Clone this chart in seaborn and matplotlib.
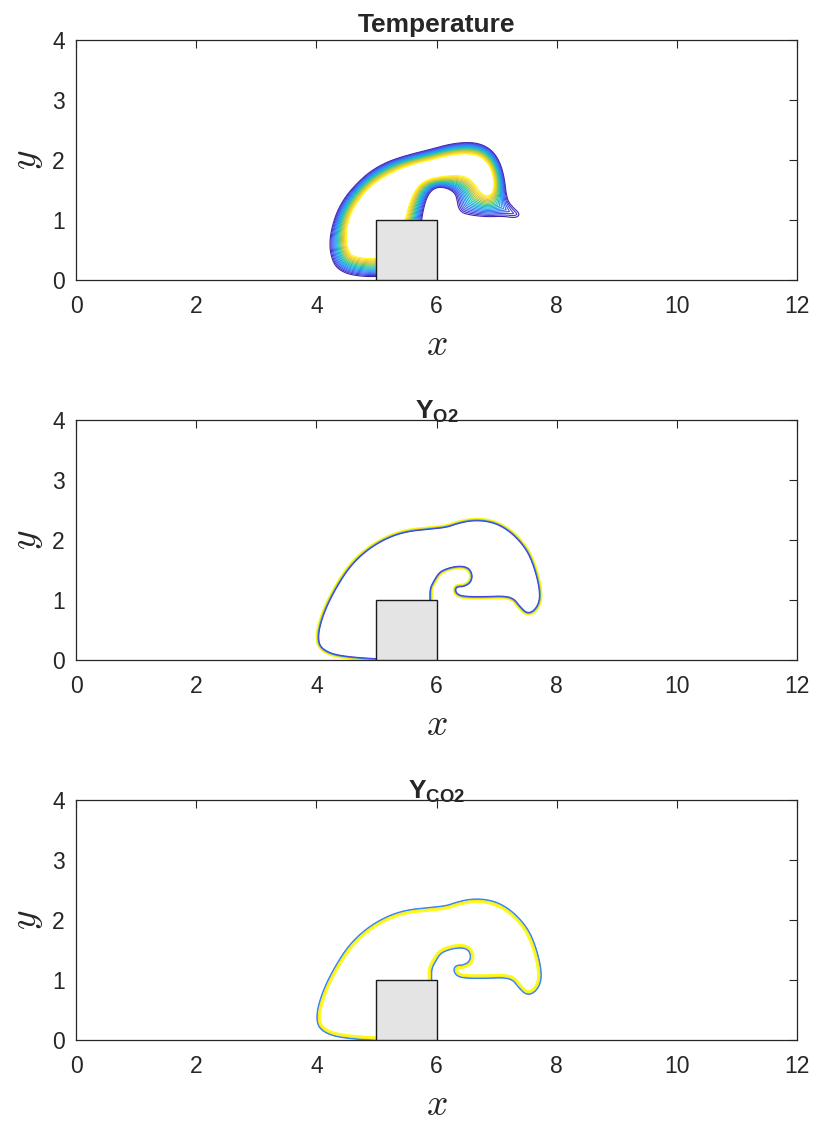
import numpy as np
import matplotlib
matplotlib.use("Agg")
import matplotlib.pyplot as plt
from matplotlib.path import Path
from matplotlib.patches import Rectangle
import seaborn as sns

# ---------------- data ----------------
# Temperature: outermost (coldest, purple) contour of the hot plume
temp_out_x = [5.75, 5.75, 5.80, 5.86, 5.95, 6.06, 6.20, 6.31, 6.34, 6.36, 6.42, 6.56,
              6.83, 7.11, 7.30, 7.38, 7.37, 7.29, 7.20, 7.16, 7.13, 7.06, 6.93, 6.74,
              6.52, 6.23, 5.90, 5.50, 5.17, 4.89, 4.67, 4.48, 4.34, 4.26, 4.22, 4.23,
              4.31, 4.50, 4.78, 5.00, 5.40, 5.75]
temp_out_y = [0.75, 1.00, 1.25, 1.42, 1.52, 1.55, 1.52, 1.44, 1.32, 1.20, 1.12, 1.08,
              1.05, 1.06, 1.03, 1.07, 1.13, 1.20, 1.30, 1.44, 1.70, 1.96, 2.16, 2.27,
              2.30, 2.27, 2.18, 2.08, 1.97, 1.81, 1.61, 1.39, 1.14, 0.89, 0.67, 0.44,
              0.22, 0.10, 0.056, 0.056, 0.06, 0.30]
# Temperature: innermost (hottest, yellow) contour
temp_in_x = [5.48, 5.53, 5.61, 5.73, 5.89, 6.11, 6.34, 6.50, 6.61, 6.72, 6.84, 6.93,
             6.96, 6.93, 6.86, 6.72, 6.50, 6.22, 5.89, 5.50, 5.17, 4.89, 4.70, 4.56,
             4.50, 4.50, 4.56, 4.64, 4.84, 5.00, 5.20, 5.30]
temp_in_y = [1.00, 1.22, 1.44, 1.61, 1.69, 1.73, 1.75, 1.72, 1.64, 1.47, 1.39, 1.45,
             1.60, 1.78, 1.94, 2.07, 2.11, 2.08, 2.00, 1.90, 1.75, 1.56, 1.33, 1.08,
             0.83, 0.61, 0.44, 0.39, 0.36, 0.36, 0.40, 0.80]
n_temp_levels = 18

# Species front (Y_O2 / Y_CO2)
spec_x = [5.89, 5.89, 5.89, 5.95, 6.03, 6.11, 6.28, 6.45, 6.56, 6.60, 6.56, 6.45,
          6.34, 6.31, 6.36, 6.50, 6.84, 7.11, 7.28, 7.39, 7.50, 7.61, 7.70, 7.72,
          7.67, 7.56, 7.42, 7.22, 7.00, 6.78, 6.56, 6.34, 6.17, 5.89, 5.50, 5.17,
          4.84, 4.56, 4.34, 4.17, 4.07, 4.03, 4.06, 4.23, 4.50, 5.00, 5.30, 5.60]
spec_y = [0.80, 1.00, 1.19, 1.31, 1.44, 1.50, 1.555, 1.565, 1.51, 1.39, 1.28, 1.22,
          1.22, 1.16, 1.085, 1.056, 1.056, 1.067, 1.03, 0.89, 0.78, 0.81, 0.94, 1.11,
          1.39, 1.72, 1.94, 2.14, 2.27, 2.32, 2.32, 2.27, 2.21, 2.18, 2.14, 2.03,
          1.83, 1.56, 1.22, 0.89, 0.61, 0.39, 0.22, 0.11, 0.056, 0.017, 0.02, 0.40]
o2_levels = [-0.040, -0.032, -0.025, -0.018, -0.011, -0.005, 0.001]
o2_shade = [1.0, 1.0, 0.95, 0.85, 0.55, 0.25, 0.10]
co2_levels = [-0.030, -0.020, -0.006, 0.006, 0.018, 0.030]
co2_shade = [0.25, 0.30, 0.93, 0.97, 1.0, 1.0]

titles = ["Temperature", r"$\mathbf{Y}_{\mathbf{O2}}$", r"$\mathbf{Y}_{\mathbf{CO2}}$"]
block = (5.0, 0.0, 1.0, 1.0)
x_ticks = [0, 2, 4, 6, 8, 10, 12]
y_ticks = [0, 1, 2, 3, 4]

# ---------------- style ----------------
sns.set_style("white")
plt.rcParams["font.family"] = ["Liberation Sans", "DejaVu Sans"]
plt.rcParams["mathtext.fontset"] = "custom"
plt.rcParams["mathtext.bf"] = "Liberation Sans:bold"
plt.rcParams["mathtext.rm"] = "Liberation Sans"
plt.rcParams["mathtext.it"] = "Liberation Sans:italic"

parula_anchor = [(0.2422, 0.1504, 0.6603), (0.2810, 0.3228, 0.9579),
                 (0.1786, 0.5289, 0.9682), (0.0689, 0.6948, 0.8394),
                 (0.2161, 0.7843, 0.5923), (0.6720, 0.7793, 0.2227),
                 (0.9970, 0.7659, 0.2199), (0.9769, 0.9839, 0.0805)]
parula = sns.blend_palette(parula_anchor, n_colors=256, as_cmap=True)


def chaikin(xs, ys, n=2):
    p = np.column_stack([xs, ys]).astype(float)
    for _ in range(n):
        q = np.roll(p, -1, axis=0)
        p = np.column_stack([0.75 * p + 0.25 * q, 0.25 * p + 0.75 * q]).reshape(-1, 2)
    return p


def signed_distance(xs, ys, gx, gy):
    """Distance to the traced outline: positive inside, negative outside."""
    p = chaikin(xs, ys)
    p = np.vstack([p, p[:1]])
    d = np.full(gx.shape, np.inf)
    for (x0, y0), (x1, y1) in zip(p[:-1], p[1:]):
        dx, dy = x1 - x0, y1 - y0
        t = np.clip(((gx - x0) * dx + (gy - y0) * dy) / (dx * dx + dy * dy), 0, 1)
        d = np.minimum(d, np.hypot(gx - x0 - t * dx, gy - y0 - t * dy))
    inside = Path(p).contains_points(np.column_stack([gx.ravel(), gy.ravel()])).reshape(gx.shape)
    return np.where(inside, d, -d)


gx, gy = np.meshgrid(np.arange(3.6, 8.2, 0.005), np.arange(0.0, 2.7, 0.005))

# temperature: normalised position between traced outer and inner contours
d_out = signed_distance(temp_out_x, temp_out_y, gx, gy)
d_in = -signed_distance(temp_in_x, temp_in_y, gx, gy)
with np.errstate(divide="ignore", invalid="ignore"):
    band = d_out / (d_out + d_in)
temp_field = np.where(d_out <= 0, d_out, np.where(d_in <= 0, 1.0 - d_in, band))
spec_field = signed_distance(spec_x, spec_y, gx, gy)

temp_levels = np.linspace(0.01, 0.99, n_temp_levels)
temp_cols = [parula(i / (n_temp_levels - 1)) for i in range(n_temp_levels)]

fig = plt.figure(figsize=(8.15, 11.22), dpi=100)
bottoms = [0.7504, 0.4118, 0.0731]
axes = [fig.add_axes([0.0933, b, 0.8847, 0.2139]) for b in bottoms]

specs = [
    (temp_field, temp_levels, temp_cols),
    (spec_field, o2_levels, [parula(s) for s in o2_shade]),
    (spec_field, co2_levels, [parula(s) for s in co2_shade]),
]

for ax, title, (field, levels, cols) in zip(axes, titles, specs):
    ax.contour(gx, gy, field, levels=levels, colors=cols, linewidths=0.8, zorder=2)
    ax.add_patch(Rectangle(block[:2], block[2], block[3], facecolor="#e4e4e4",
                           edgecolor="#1a1a1a", linewidth=1.0, zorder=3))
    ax.set_xlim(0, 12)
    ax.set_ylim(0, 4)
    ax.set_xticks(x_ticks)
    ax.set_yticks(y_ticks)
    ax.tick_params(direction="in", length=6, width=0.8, colors="#262626",
                   labelsize=16.5, top=True, right=True)
    ax.tick_params(axis="x", pad=11)
    ax.tick_params(axis="y", pad=8)
    for s in ax.spines.values():
        s.set_color("#262626")
        s.set_linewidth(0.9)
    ax.set_xlabel(r"$x$", fontsize=27, math_fontfamily="cm", labelpad=6)
    ax.set_ylabel(r"$y$", fontsize=27, math_fontfamily="cm", labelpad=5, rotation=90)
    if title == "Temperature":
        ax.set_title(title, fontsize=19, fontweight="bold", pad=6)
    else:
        ax.set_title(title, fontsize=19, pad=1)

fig.savefig("out.png", dpi=100)
